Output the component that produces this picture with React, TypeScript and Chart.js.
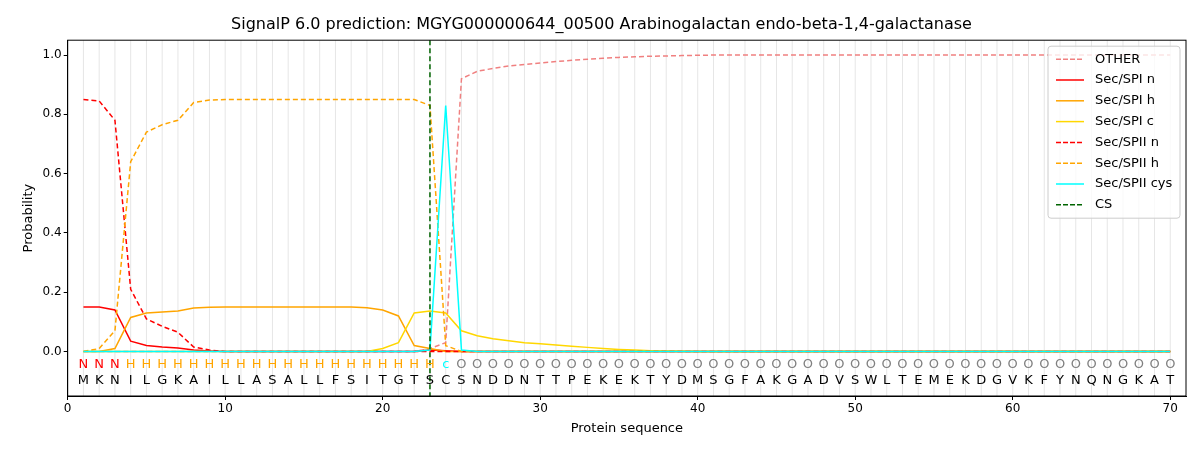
import { useEffect, useRef } from 'react';
import Chart from 'chart.js/auto';

const positions = Array.from({ length: 70 }, (_, i) => i + 1);
const sequence = 'MKNILGKAILLASALLFSITGTSCSNDDNTTPEKEKTYDMSGFAKGADVSWLTEMEKDGVKFYNQNGKAT'.split('');
const regionLabels = [
  'N', 'N', 'N', ...Array(20).fill('H'), 'c', ...Array(46).fill('O'),
];
const regionColors: Record<string, string> = { N: '#ff0000', H: '#ffa500', c: '#00ffff', O: '#808080' };

const other = [0, 0, 0, 0, 0, 0, 0, 0, 0, 0, 0, 0, 0, 0, 0, 0, 0, 0, 0, 0, 0, 0, 0.01, 0.03, 0.92, 0.945, 0.955, 0.963, 0.968, 0.973, 0.978, 0.982, 0.986, 0.989, 0.992, 0.994, 0.996, 0.997, 0.998, 0.999, 1, 1, 1, 1, 1, 1, 1, 1, 1, 1, 1, 1, 1, 1, 1, 1, 1, 1, 1, 1, 1, 1, 1, 1, 1, 1, 1, 1, 1, 1];
const spiN = [0.15, 0.15, 0.14, 0.035, 0.02, 0.015, 0.012, 0.005, 0.002, 0, 0, 0, 0, 0, 0, 0, 0, 0, 0, 0, 0, 0, 0.005, 0.003, 0, ...Array(45).fill(0)];
const spiH = [0, 0, 0.01, 0.115, 0.13, 0.133, 0.137, 0.147, 0.149, 0.15, 0.15, 0.15, 0.15, 0.15, 0.15, 0.15, 0.15, 0.15, 0.148, 0.14, 0.12, 0.02, 0.01, 0, ...Array(46).fill(0)];
const spiC = [0, 0, 0, 0, 0, 0, 0, 0, 0, 0, 0, 0, 0, 0, 0, 0, 0, 0, 0, 0.01, 0.03, 0.13, 0.137, 0.13, 0.07, 0.053, 0.043, 0.036, 0.03, 0.026, 0.022, 0.018, 0.014, 0.01, 0.007, 0.005, 0.003, 0.002, 0.001, ...Array(31).fill(0)];
const spiiN = [0.85, 0.845, 0.78, 0.21, 0.11, 0.085, 0.065, 0.015, 0.005, ...Array(61).fill(0)];
const spiiH = [0, 0.01, 0.07, 0.64, 0.74, 0.765, 0.78, 0.84, 0.848, 0.85, 0.85, 0.85, 0.85, 0.85, 0.85, 0.85, 0.85, 0.85, 0.85, 0.85, 0.85, 0.85, 0.83, 0.02, 0, ...Array(45).fill(0)];
const spiiCys = [...Array(22).fill(0), 0.005, 0.83, 0.005, ...Array(45).fill(0)];
const csPosition = 23;
const xTicks = [0, 10, 20, 30, 40, 50, 60, 70];
const yTicks = [0, 0.2, 0.4, 0.6, 0.8, 1.0];

const FONT = 'DejaVu Sans';

const legendItems = [
  { label: 'OTHER', color: '#f08080', dash: true },
  { label: 'Sec/SPI n', color: '#ff0000', dash: false },
  { label: 'Sec/SPI h', color: '#ffa500', dash: false },
  { label: 'Sec/SPI c', color: '#ffd700', dash: false },
  { label: 'Sec/SPII n', color: '#ff0000', dash: true },
  { label: 'Sec/SPII h', color: '#ffa500', dash: true },
  { label: 'Sec/SPII cys', color: '#00ffff', dash: false },
  { label: 'CS', color: '#006400', dash: true },
];

const overlay = {
  id: 'overlay',
  beforeDatasetsDraw(chart: any) {
    const { ctx, chartArea, scales } = chart;
    ctx.save();
    ctx.strokeStyle = '#e6e6e6';
    ctx.lineWidth = 1;
    positions.forEach((p) => {
      const x = scales.x.getPixelForValue(p);
      ctx.beginPath();
      ctx.moveTo(x, chartArea.top);
      ctx.lineTo(x, chartArea.bottom);
      ctx.stroke();
    });
    ctx.restore();
  },
  afterDatasetsDraw(chart: any) {
    const { ctx, chartArea, scales } = chart;
    ctx.save();
    const cx = scales.x.getPixelForValue(csPosition);
    ctx.strokeStyle = '#006400';
    ctx.lineWidth = 1.5;
    ctx.setLineDash([5, 3]);
    ctx.beginPath();
    ctx.moveTo(cx, chartArea.top);
    ctx.lineTo(cx, chartArea.bottom);
    ctx.stroke();
    ctx.setLineDash([]);
    ctx.strokeStyle = '#000';
    ctx.lineWidth = 1;
    ctx.strokeRect(chartArea.left, chartArea.top, chartArea.right - chartArea.left, chartArea.bottom - chartArea.top);
    ctx.font = `13px ${FONT}`;
    ctx.textAlign = 'center';
    ctx.textBaseline = 'middle';
    positions.forEach((p, i) => {
      const x = scales.x.getPixelForValue(p);
      ctx.fillStyle = regionColors[regionLabels[i]];
      ctx.fillText(regionLabels[i], x, scales.y.getPixelForValue(-0.045));
      ctx.fillStyle = '#000';
      ctx.fillText(sequence[i], x, scales.y.getPixelForValue(-0.097));
    });
    const w = 132, h = 172;
    const lx = chartArea.right - w - 6, ly = chartArea.top + 6;
    ctx.fillStyle = 'rgba(255,255,255,0.8)';
    ctx.strokeStyle = '#cccccc';
    ctx.beginPath();
    ctx.roundRect(lx, ly, w, h, 3);
    ctx.fill();
    ctx.stroke();
    ctx.textAlign = 'left';
    legendItems.forEach((it, i) => {
      const y = ly + 13 + i * 20.8;
      ctx.strokeStyle = it.color;
      ctx.lineWidth = 1.5;
      ctx.setLineDash(it.dash ? [5, 2] : []);
      ctx.beginPath();
      ctx.moveTo(lx + 8, y);
      ctx.lineTo(lx + 36, y);
      ctx.stroke();
      ctx.setLineDash([]);
      ctx.fillStyle = '#000';
      ctx.fillText(it.label, lx + 47, y);
    });
    ctx.restore();
  },
};

function ds(label: string, data: number[], color: string, dash: boolean, order: number) {
  return {
    label,
    data: data.map((v, i) => ({ x: positions[i], y: v })),
    borderColor: color,
    backgroundColor: color,
    borderWidth: 1.5,
    borderDash: dash ? [5, 3] : [],
    pointRadius: 0,
    tension: 0,
    order,
  };
}

const tickGrid = { drawOnChartArea: false, drawTicks: true, tickLength: 4, color: '#000' };

export default function App() {
  const canvasRef = useRef<HTMLCanvasElement>(null);

  useEffect(() => {
    const canvas = canvasRef.current;
    if (!canvas) return;
    const chart = new Chart(canvas, {
      type: 'line',
      data: {
        datasets: [
          ds('OTHER', other, '#f08080', true, 7),
          ds('Sec/SPI n', spiN, '#ff0000', false, 6),
          ds('Sec/SPI h', spiH, '#ffa500', false, 5),
          ds('Sec/SPI c', spiC, '#ffd700', false, 4),
          ds('Sec/SPII n', spiiN, '#ff0000', true, 3),
          ds('Sec/SPII h', spiiH, '#ffa500', true, 2),
          ds('Sec/SPII cys', spiiCys, '#00ffff', false, 1),
        ],
      },
      options: {
        animation: false,
        responsive: true,
        maintainAspectRatio: false,
        layout: { padding: { left: 9, right: 6, top: 3, bottom: 6 } },
        plugins: {
          legend: { display: false },
          tooltip: { enabled: false },
          title: {
            display: true,
            text: 'SignalP 6.0 prediction: MGYG000000644_00500 Arabinogalactan endo-beta-1,4-galactanase',
            color: '#000',
            font: { family: FONT, size: 16, weight: 'normal' },
            padding: { top: 4, bottom: 6 },
          },
        },
        scales: {
          x: {
            type: 'linear',
            min: 0,
            max: 71,
            grid: tickGrid,
            border: { color: '#000' },
            afterBuildTicks: (axis: any) => {
              axis.ticks = xTicks.map((v) => ({ value: v }));
            },
            ticks: { color: '#000', font: { family: FONT, size: 12 }, padding: 2 },
            title: { display: true, text: 'Protein sequence', color: '#000', font: { family: FONT, size: 13 }, padding: { top: 2, bottom: 0 } },
          },
          y: {
            min: -0.15,
            max: 1.05,
            grid: tickGrid,
            border: { color: '#000' },
            afterBuildTicks: (axis: any) => {
              axis.ticks = yTicks.map((v) => ({ value: v }));
            },
            ticks: { color: '#000', font: { family: FONT, size: 12 }, padding: 2, callback: (v: any) => Number(v).toFixed(1) },
            title: { display: true, text: 'Probability', color: '#000', font: { family: FONT, size: 13 } },
          },
        },
      },
      plugins: [overlay],
    });
    return () => chart.destroy();
  }, []);

  return (
    <div style={{ width: 1184, height: 434, background: '#fff' }}>
      <canvas ref={canvasRef} />
    </div>
  );
}
